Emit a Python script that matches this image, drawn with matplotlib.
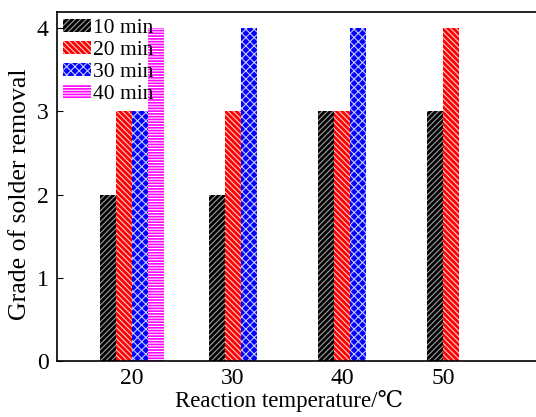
import matplotlib.pyplot as plt
import numpy as np

temps = ["20", "30", "40", "50"]
labels = ["10 min", "20 min", "30 min", "40 min"]

# grade of solder removal per reaction time (nan = not tested)
grade_10 = [2, 2, 3, 3]
grade_20 = [3, 3, 3, 4]
grade_30 = [3, 4, 4, np.nan]
grade_40 = [4, np.nan, np.nan, np.nan]

plt.rcParams['font.family'] = ['Liberation Serif', 'DejaVu Serif', 'DejaVu Sans']
plt.rcParams['hatch.linewidth'] = 0.8

fig = plt.figure(figsize=(5.36, 4.17), dpi=100)
ax = fig.add_axes([0.106, 0.134, 0.92, 0.837])

series = np.array([grade_10, grade_20, grade_30, grade_40], dtype=float)
faces = ['black', 'red', 'blue', 'magenta']
hatch_cols = ['#a0a0a0', '#ffd0d0', '#c8c8ff', 'white']
hatches = ['//////', '\\\\\\\\\\\\', 'xxxx', '------']

w = 0.147
groups = np.arange(len(temps))

for i in range(4):
    xs = groups + (i - 1.5) * w
    ax.bar(xs, series[i], width=w, color=faces[i], edgecolor=hatch_cols[i],
           hatch=hatches[i], linewidth=0, label=labels[i])

# tick label in the middle of the bars that exist in each group
centers = []
for g in groups:
    present = [i for i in range(4) if not np.isnan(series[i][g])]
    centers.append(g + (np.mean(present) - 1.5) * w)

ax.set_xticks(centers)
ax.set_xticklabels(temps)
ax.set_xlim(-0.688, 3.835)
ax.set_ylim(0, 4.19)
ax.set_yticks([0, 1, 2, 3, 4])

ax.tick_params(axis='x', length=0, labelsize=17, pad=5)
ax.tick_params(axis='y', direction='in', length=4, labelsize=17, pad=6)
ax.spines['right'].set_visible(False)
for s in ['left', 'bottom', 'top']:
    ax.spines[s].set_linewidth(1.2)

ax.set_xlabel("Reaction temperature/℃", fontsize=16.5, labelpad=0.5)
ax.xaxis.label.set_x(0.47)
ax.set_ylabel("Grade of solder removal", fontsize=18.5, labelpad=4)
ax.yaxis.label.set_y(0.478)

ax.legend(loc='upper left', frameon=False, fontsize=15.5, handlelength=1.3,
          handleheight=0.6, handletextpad=0.1, labelspacing=0.12,
          borderaxespad=0.1, borderpad=0.2)

fig.savefig("out.png", dpi=100)
